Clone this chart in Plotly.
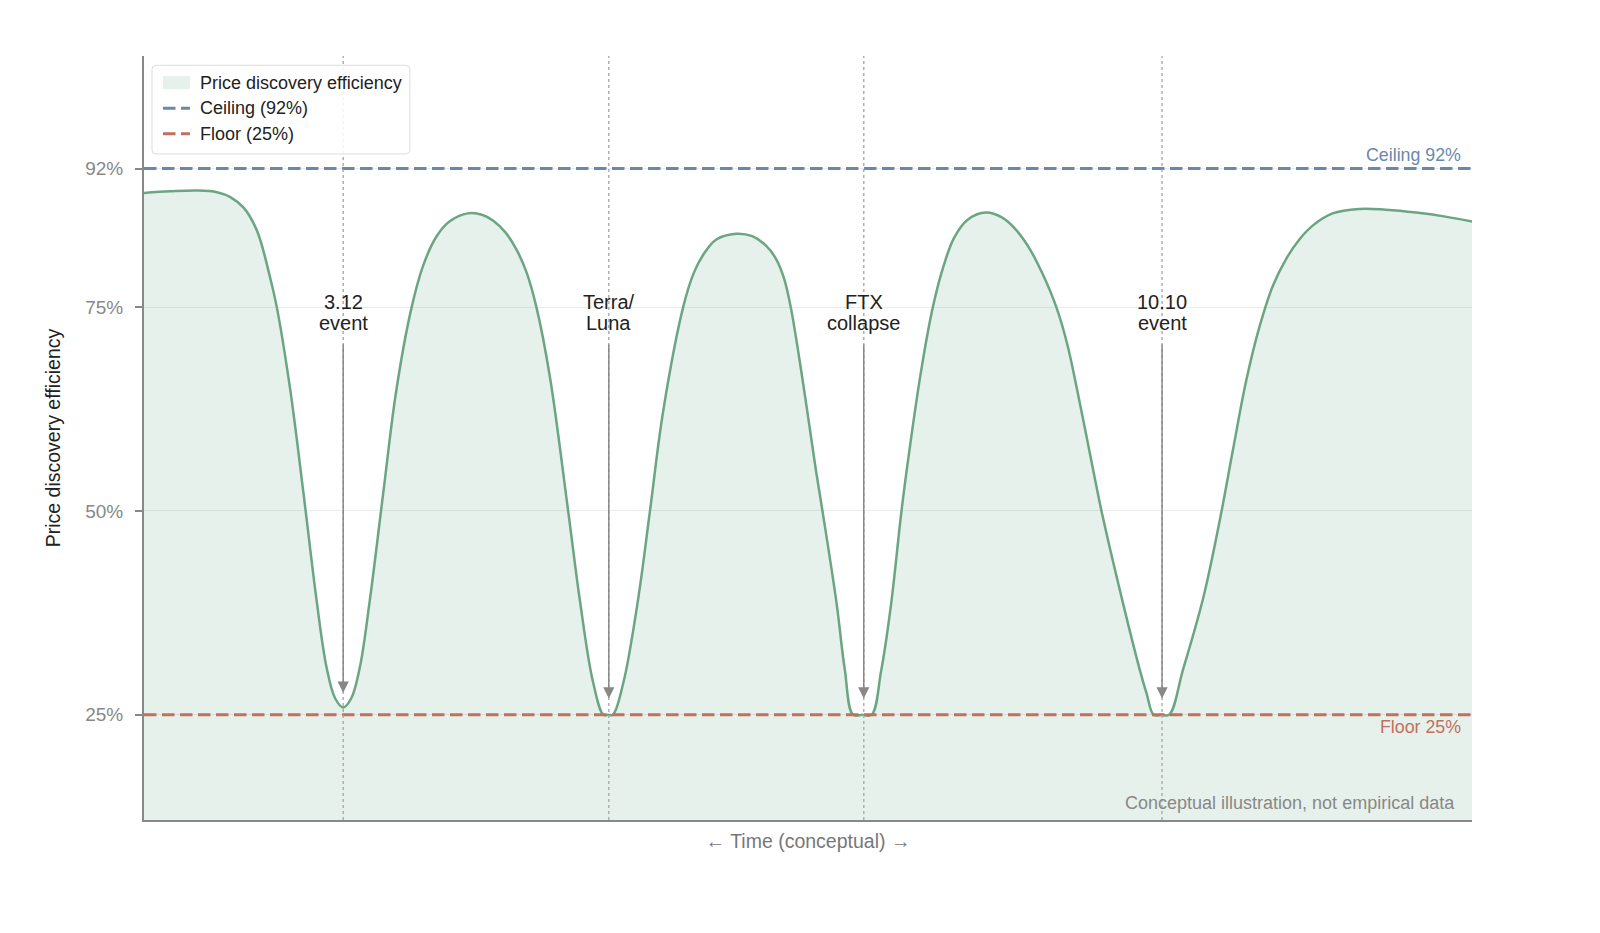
import plotly.graph_objects as go

# ---------------- data ----------------
TIME = [0, 2.0, 4.0, 5.5, 6.5, 7.5, 8.5, 9.5, 10.0, 11.0, 12.0, 13.0, 13.75, 14.4, 15.0,
        15.6, 16.25, 17.0, 18.0, 19.0, 20.1, 21.0, 22.0, 23.0, 24.4, 25.5, 26.3, 27.2,
        28.0, 28.8, 29.55, 30.56, 31.94, 32.8, 33.83, 34.6, 34.95, 35.3, 36.09, 37.2,
        38.1, 39.1, 40.6, 41.4, 42.1, 43.1, 44.6, 45.8, 46.8, 47.6, 48.2, 48.7, 49.6,
        50.59, 51.09, 52.15, 52.77, 53.4, 54.09, 54.78, 55.5, 56.25, 57.04, 57.6, 58.5,
        59.4, 60.2, 61.0, 62.0, 63.4, 64.6, 65.6, 66.6, 67.6, 68.7, 69.5, 70.3, 71.47,
        72.1, 73.72, 74.98, 75.5, 76.03, 76.61, 77.19, 78.24, 79.74, 81.0, 82.0, 83.0,
        84.0, 85.0, 86.0, 87.0, 88.0, 89.5, 91.5, 93.5, 95.8, 98.0, 100]
EFFICIENCY = [89.0, 89.2, 89.3, 89.1, 88.5, 87.2, 84.4, 78.6, 75.0, 65.0, 52.3, 39.0, 30.8,
              27.0, 25.9, 27.0, 30.8, 39.0, 52.0, 64.8, 74.6, 80.0, 83.6, 85.5, 86.5, 86.3,
              85.6, 84.2, 82.2, 79.3, 75.0, 66.5, 50.0, 39.3, 28.9, 25.0, 25.0, 25.0, 28.9,
              39.1, 50.0, 62.3, 75.0, 79.2, 81.4, 83.3, 84.0, 83.7, 82.6, 80.9, 78.5, 75.0,
              66.0, 55.06, 50.0, 38.7, 30.55, 25.0, 25.0, 25.0, 30.3, 38.5, 50.0, 57.0,
              67.0, 75.0, 80.0, 83.5, 85.7, 86.6, 86.0, 84.6, 82.4, 79.3, 75.0, 70.6, 64.6,
              55.06, 50.0, 38.7, 30.55, 27.6, 25.0, 25.0, 25.0, 30.55, 39.2, 48.8, 57.5,
              66.0, 72.6, 77.6, 80.9, 83.3, 85.0, 86.5, 87.05, 86.95, 86.6, 86.1, 85.5]

EVENT_X = [15.0, 35.0, 54.2, 76.66]
EVENT_LINE1 = ["3.12", "Terra/", "FTX", "10.10"]
EVENT_LINE2 = ["event", "Luna", "collapse", "event"]
ARROW_TIP = [27.7, 27.0, 27.0, 27.0]
ARROW_TAIL = 70.6
LABEL_Y1 = 75.6
LABEL_Y2 = 73.1

CEILING = 92
FLOOR = 25
X_RANGE = [0, 100]
Y_RANGE = [12.1, 105.8]
Y_TICKS = [25, 50, 75, 92]
Y_TICK_TEXT = ["25%", "50%", "75%", "92%"]

LEGEND_LABELS = ["Price discovery efficiency", "Ceiling (92%)", "Floor (25%)"]

# ---------------- styles ----------------
FONT = "Liberation Sans, Arial, Helvetica, sans-serif"
GREEN = "#6BA583"
GREEN_FILL = "rgba(107,165,131,0.16)"
BLUE = "#6A89AA"
RED = "#C0705F"
GRAY = "#888888"
DASH = "12.5px,5.5px"

W, H = 1600, 933
ML, MT = 136, 48
PW, PH = 1328.5, 764.4
MR = W - ML - PW
MB = H - MT - PH


def px_x(px):
    return (px - ML) / PW


def px_y(py):
    return (MT + PH - py) / PH


fig = go.Figure()

fig.add_trace(go.Scatter(
    x=TIME, y=EFFICIENCY, mode="lines", fill="tozeroy", fillcolor=GREEN_FILL,
    line=dict(color=GREEN, width=2.5, shape="spline", smoothing=1.05),
    showlegend=False, name=LEGEND_LABELS[0]))
fig.add_trace(go.Scatter(
    x=X_RANGE, y=[CEILING, CEILING], mode="lines",
    line=dict(color=BLUE, width=3, dash=DASH), name=LEGEND_LABELS[1], showlegend=False))
fig.add_trace(go.Scatter(
    x=X_RANGE, y=[FLOOR, FLOOR], mode="lines",
    line=dict(color=RED, width=3, dash=DASH), name=LEGEND_LABELS[2], showlegend=False))

shapes = []
annotations = []
for ex, l1, l2, tip in zip(EVENT_X, EVENT_LINE1, EVENT_LINE2, ARROW_TIP):
    shapes.append(dict(type="line", xref="x", yref="paper", x0=ex, x1=ex, y0=0, y1=1,
                       line=dict(color="#AAAAAA", width=1.4, dash="dot"), layer="above"))
    for txt, ty in ((l1, LABEL_Y1), (l2, LABEL_Y2)):
        annotations.append(dict(x=ex, y=ty, xref="x", yref="y", text=txt, showarrow=False,
                                font=dict(size=20, color="#222222", family=FONT),
                                xanchor="center", yanchor="middle"))
    annotations.append(dict(x=ex, y=tip, xref="x", yref="y", ax=ex, ay=ARROW_TAIL,
                            axref="x", ayref="y", text="", showarrow=True,
                            arrowhead=2, arrowsize=1.5, arrowwidth=1.5,
                            arrowcolor=GRAY, standoff=0, startstandoff=0))

annotations.append(dict(x=99.3, y=CEILING, xref="x", yref="y", text="Ceiling 92%",
                        showarrow=False, xanchor="right", yanchor="bottom", yshift=2,
                        font=dict(size=17.8, color=BLUE, family=FONT)))
annotations.append(dict(x=99.3, y=FLOOR, xref="x", yref="y", text="Floor 25%",
                        showarrow=False, xanchor="right", yanchor="top", yshift=0,
                        font=dict(size=17.8, color=RED, family=FONT)))
annotations.append(dict(x=98.9, y=14.2, xref="x", yref="y",
                        text="Conceptual illustration, not empirical data",
                        showarrow=False, xanchor="right", yanchor="middle",
                        font=dict(size=18, color=GRAY, family=FONT)))

# ---------------- hand-built legend (rounded box, patch, dashed keys) ----------------
bx0, bx1, by0, by1, rad = 144, 402, 57.3, 146, 4
rx, ry = rad / PW, rad / PH
X0, X1, Y0, Y1 = px_x(bx0), px_x(bx1), px_y(by1), px_y(by0)
box_path = (f"M{X0 + rx},{Y0} L{X1 - rx},{Y0} Q{X1},{Y0} {X1},{Y0 + ry} "
            f"L{X1},{Y1 - ry} Q{X1},{Y1} {X1 - rx},{Y1} L{X0 + rx},{Y1} "
            f"Q{X0},{Y1} {X0},{Y1 - ry} L{X0},{Y0 + ry} Q{X0},{Y0} {X0 + rx},{Y0} Z")
shapes.append(dict(type="path", xref="paper", yref="paper", path=box_path,
                   fillcolor="rgba(255,255,255,0.85)", line=dict(color="#DDDDDD", width=1),
                   layer="above"))
row_y = [74.7, 100.2, 125.7]
key_x0, key_x1, text_x = 155, 182, 190
shapes.append(dict(type="rect", xref="paper", yref="paper",
                   x0=px_x(key_x0), x1=px_x(key_x1),
                   y0=px_y(row_y[0] + 6.6), y1=px_y(row_y[0] - 6.6),
                   fillcolor=GREEN_FILL, line=dict(width=0), layer="above"))
for ry_, col in ((row_y[1], BLUE), (row_y[2], RED)):
    shapes.append(dict(type="line", xref="paper", yref="paper",
                       x0=px_x(key_x0), x1=px_x(key_x1), y0=px_y(ry_), y1=px_y(ry_),
                       line=dict(color=col, width=3, dash=DASH), layer="above"))
for lbl, ry_ in zip(LEGEND_LABELS, row_y):
    annotations.append(dict(x=px_x(text_x), y=px_y(ry_), xref="paper", yref="paper",
                            text=lbl, showarrow=False, xanchor="left", yanchor="middle",
                            font=dict(size=18, color="#222222", family=FONT)))

fig.update_layout(
    width=W, height=H,
    margin=dict(l=ML, r=MR, t=MT, b=MB, autoexpand=False),
    paper_bgcolor="white", plot_bgcolor="white",
    font=dict(family=FONT, color="#222222"),
    showlegend=False,
    shapes=shapes,
    annotations=annotations,
    xaxis=dict(range=X_RANGE, showgrid=False, zeroline=False, showticklabels=False,
               ticks="", showline=True, linecolor=GRAY, linewidth=2, automargin=False,
               title=dict(text="← Time (conceptual) →", standoff=13,
                          font=dict(size=19.5, color="#777777", family=FONT))),
    yaxis=dict(range=Y_RANGE, tickvals=Y_TICKS, ticktext=Y_TICK_TEXT, showgrid=True,
               gridcolor="#EBEBEB", gridwidth=1, zeroline=False, showline=True,
               linecolor=GRAY, linewidth=2, ticks="outside", ticklen=7, tickwidth=1.5,
               tickcolor=GRAY, ticklabelstandoff=8, automargin=False,
               tickfont=dict(size=19, color=GRAY, family=FONT),
               title=dict(text="Price discovery efficiency", standoff=19,
                          font=dict(size=19.5, color="#222222", family=FONT))),
)

fig.write_html("out.html")
